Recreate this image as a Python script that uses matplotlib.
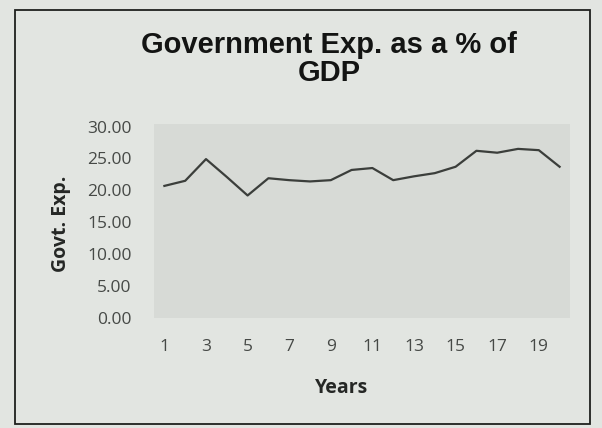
import matplotlib
matplotlib.use('Agg')
from matplotlib import pyplot as plt
from matplotlib.patches import Rectangle

# government expenditure, % of GDP, years 1..20
years = list(range(1, 21))
govt_exp = [20.7, 21.5, 24.9, 22.1, 19.2, 21.9, 21.6, 21.4, 21.6, 23.2,
            23.5, 21.6, 22.2, 22.7, 23.7, 26.2, 25.9, 26.5, 26.3, 23.7]
y_ticks = [0, 5, 10, 15, 20, 25, 30]
x_ticks = [1, 3, 5, 7, 9, 11, 13, 15, 17, 19]

W, H = 602, 428
fig = plt.figure(figsize=(W / 100, H / 100), dpi=100)
fig.patch.set_facecolor('#e2e5e1')

# chart frame
fig.patches.append(Rectangle((15 / W, 1 - 424 / H), 575 / W, 414 / H,
                             transform=fig.transFigure, fill=False,
                             edgecolor='#1e201e', linewidth=1.3))

ax = fig.add_axes([154 / W, 1 - 318 / H, 416 / W, 194 / H])
ax.set_facecolor('#d7dad6')
ax.plot(years, govt_exp, color='#3b3e3b', linewidth=1.6)
ax.set_xlim(0.5, 20.5)
ax.set_ylim(0, 30.4)
ax.set_yticks(y_ticks)
ax.set_yticklabels(['%.2f' % v for v in y_ticks])
ax.set_xticks(x_ticks)
for s in ax.spines.values():
    s.set_visible(False)
ax.tick_params(length=0, labelsize=12.5, labelcolor='#464946')
ax.tick_params(axis='y', pad=16)
ax.tick_params(axis='x', pad=15)
for lab in ax.get_xticklabels() + ax.get_yticklabels():
    lab.set_fontfamily('Open Sans')

fig.text(61 / W, 1 - 224 / H, 'Govt. Exp.', rotation=90, ha='center', va='center',
         fontsize=14, fontweight='bold', family='Open Sans', color='#252725')
fig.text(342 / W, 1 - 388 / H, 'Years', ha='center', va='center',
         fontsize=14, fontweight='bold', family='Open Sans', color='#252725')
fig.text(329 / W, 1 - 59 / H, 'Government Exp. as a % of\nGDP', ha='center', va='center',
         fontsize=21, fontweight='bold', family='Liberation Sans', color='#131413',
         linespacing=1.0)

fig.savefig('out.png', dpi=100, facecolor=fig.get_facecolor())
